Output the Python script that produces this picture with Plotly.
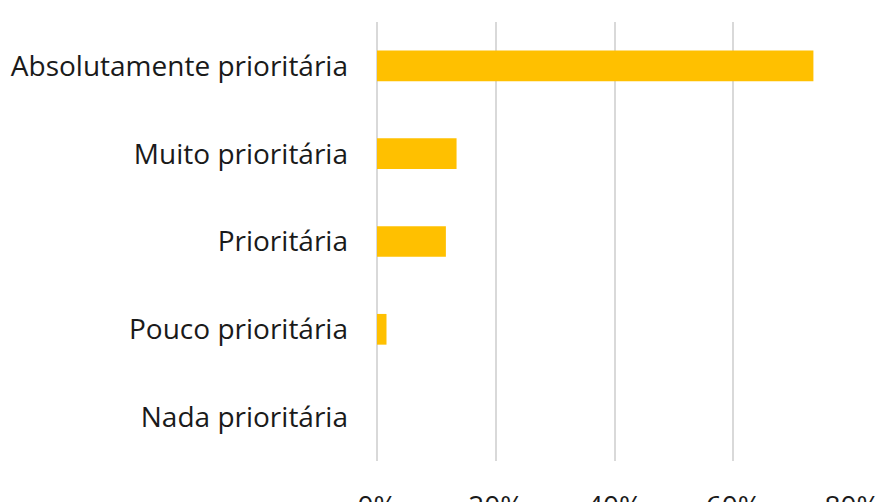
import plotly.graph_objects as go

categories = ["Absolutamente prioritária", "Muito prioritária", "Prioritária",
              "Pouco prioritária", "Nada prioritária"]
values = [73.5, 13.4, 11.6, 1.6, 0.0]
tick_vals = [0, 20, 40, 60, 80]
tick_text = ["0%", "20%", "40%", "60%", "80%"]

fig = go.Figure(go.Bar(
    x=values, y=categories, orientation="h",
    marker=dict(color="#FFC000", line=dict(width=0)),
))

fig.update_layout(
    width=884, height=502,
    margin=dict(l=368.5, r=40, t=13.5, b=49, autoexpand=False),
    paper_bgcolor="white", plot_bgcolor="white",
    bargap=0.65, showlegend=False,
    font=dict(family="Open Sans", size=28, color="#1a1a1a"),
)
fig.update_xaxes(
    range=[0, 80], tickvals=tick_vals, ticktext=tick_text,
    showgrid=True, gridcolor="#d9d9d9", gridwidth=2,
    zeroline=True, zerolinecolor="#d9d9d9", zerolinewidth=2,
    showline=False, ticks="", ticklabelstandoff=26, automargin=False,
)
fig.update_yaxes(
    categoryorder="array", categoryarray=categories[::-1],
    showgrid=False, zeroline=False, showline=False, ticks="",
    ticklabelstandoff=28, automargin=False,
)

fig.write_html("out.html")
